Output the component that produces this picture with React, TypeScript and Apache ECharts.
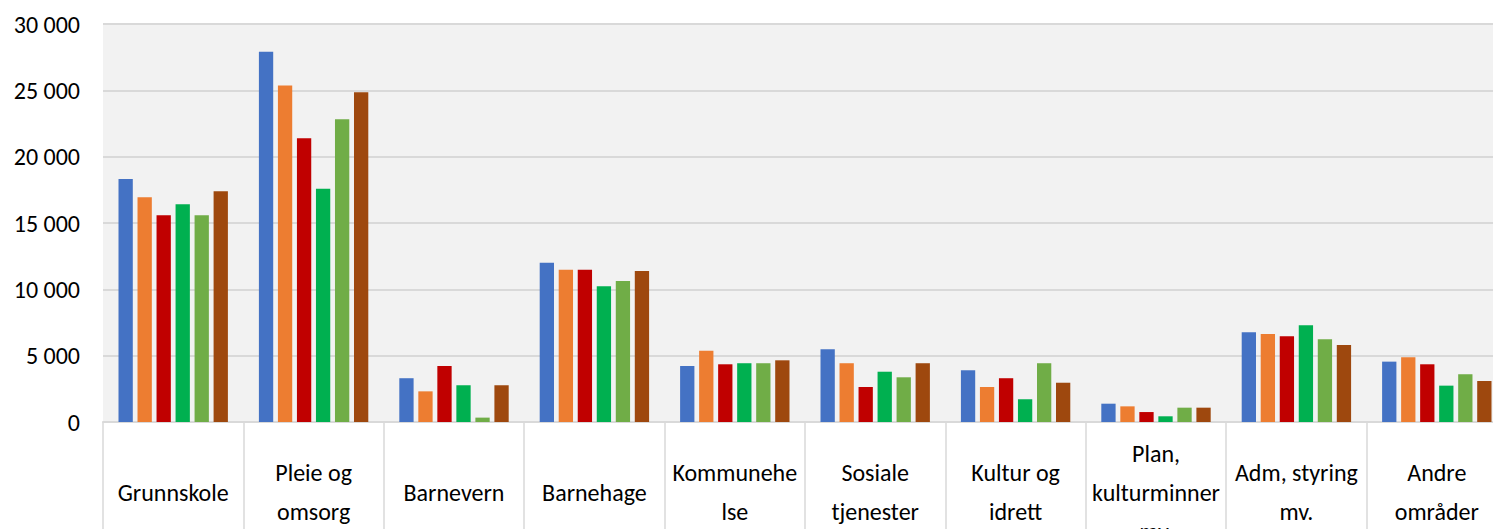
import React, { useEffect, useRef } from "react";
import * as echarts from "echarts";

const categories = [
  "Grunnskole",
  "Pleie og\nomsorg",
  "Barnevern",
  "Barnehage",
  "Kommunehe\nlse",
  "Sosiale\ntjenester",
  "Kultur og\nidrett",
  "Plan,\nkulturminner\nmv.",
  "Adm, styring\nmv.",
  "Andre\nområder",
];

const seriesA = [18320, 27900, 3300, 12010, 4220, 5480, 3900, 1380, 6760, 4550];
const seriesB = [16940, 25360, 2310, 11480, 5380, 4430, 2640, 1180, 6630, 4880];
const seriesC = [15590, 21390, 4220, 11480, 4350, 2640, 3300, 750, 6460, 4350];
const seriesD = [16410, 17590, 2770, 10230, 4430, 3790, 1710, 430, 7290, 2740];
const seriesE = [15590, 22820, 330, 10630, 4430, 3370, 4430, 1080, 6240, 3600];
const seriesF = [17400, 24860, 2770, 11390, 4650, 4430, 2960, 1080, 5810, 3090];

const seriesList = [seriesA, seriesB, seriesC, seriesD, seriesE, seriesF];
const colors = ["#4472C4", "#ED7D31", "#C00000", "#00B050", "#70AD47", "#9E480E"];

const yTicks = { min: 0, max: 30000, interval: 5000 };

const FONT = "Carlito, Lato, 'Noto Sans', sans-serif";

export default function App() {
  const ref = useRef<HTMLDivElement>(null);
  useEffect(() => {
    if (!ref.current) return;
    const chart = echarts.init(ref.current, undefined, { renderer: "svg" });
    chart.setOption({
      animation: false,
      backgroundColor: "#FFFFFF",
      grid: {
        left: 103,
        right: -14,
        top: 24,
        bottom: 107,
        containLabel: false,
        outerBoundsMode: "none",
        show: true,
        backgroundColor: "#F2F2F2",
        borderWidth: 0,
      },
      xAxis: {
        type: "category",
        data: categories,
        axisLine: { show: true, lineStyle: { color: "#D9D9D9", width: 2 } },
        axisTick: { show: true, length: 120, lineStyle: { color: "#D9D9D9", width: 1.5 } },
        axisLabel: {
          interval: 0,
          margin: 70,
          verticalAlign: "middle",
          fontFamily: FONT,
          fontSize: 24,
          lineHeight: 39,
          color: "#000000",
        },
      },
      yAxis: {
        type: "value",
        min: yTicks.min,
        max: yTicks.max,
        interval: yTicks.interval,
        axisLine: { show: false },
        axisTick: { show: false },
        splitLine: { show: true, lineStyle: { color: "#D9D9D9", width: 2 } },
        axisLabel: {
          margin: 23,
          fontFamily: FONT,
          fontSize: 24,
          color: "#000000",
          formatter: (v: number) => String(v).replace(/\B(?=(\d{3})+(?!\d))/g, " "),
        },
      },
      series: seriesList.map((d, i) => ({
        type: "bar",
        data: d,
        barWidth: 14.3,
        barGap: "33%",
        itemStyle: { color: colors[i] },
      })),
    });
    return () => chart.dispose();
  }, []);
  return (
    <div
      ref={ref}
      style={{ position: "absolute", left: 0, top: 0, width: 1493, height: 529, overflow: "hidden" }}
    />
  );
}
